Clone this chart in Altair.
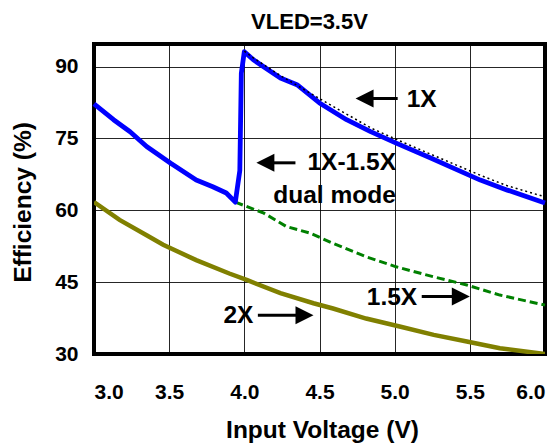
import altair as alt
import pandas as pd

# ---- data ----
# 1X-1.5X dual mode (blue)
dual_x = [3.00, 3.13, 3.24, 3.35, 3.51, 3.68, 3.79, 3.88, 3.94, 3.97, 3.98, 4.00, 4.06, 4.24, 4.35, 4.50, 4.68, 4.84, 5.01, 5.24, 5.39, 5.57, 5.75, 6.00]
dual_y = [82.2, 78.9, 76.4, 73.3, 69.8, 66.3, 64.9, 63.6, 61.7, 68.3, 88.6, 93.1, 91.4, 87.6, 86.2, 82.4, 78.9, 76.4, 74.0, 70.9, 68.8, 66.3, 64.2, 61.5]

# 1X (black dotted)
one_x = [4.00, 4.06, 4.24, 4.50, 4.84, 5.01, 5.24, 5.57, 5.75, 6.00]
one_y = [93.2, 91.8, 88.1, 83.3, 77.2, 74.8, 71.7, 67.3, 65.1, 62.8]

# 1.5X (green dashed)
x15_x = [3.94, 4.13, 4.28, 4.44, 4.59, 4.81, 5.01, 5.26, 5.48, 5.70, 6.00]
x15_y = [61.7, 59.4, 56.6, 55.2, 53.1, 50.3, 48.2, 46.1, 44.4, 42.3, 40.2]

# 2X (olive)
x2_x = [3.00, 3.17, 3.35, 3.46, 3.68, 3.90, 4.02, 4.24, 4.46, 4.59, 4.81, 5.04, 5.26, 5.48, 5.70, 6.00]
x2_y = [61.7, 58.0, 54.8, 52.8, 49.6, 46.8, 45.4, 42.7, 40.6, 39.5, 37.4, 35.7, 34.0, 32.6, 31.2, 30.0]

x_ticks = [3.0, 3.5, 4.0, 4.5, 5.0, 5.5, 6.0]
y_ticks = [30, 45, 60, 75, 90]

# annotations
label_text = ["1X", "1X-1.5X", "dual mode", "2X", "1.5X"]
label_x = [5.08, 4.42, 4.60, 4.06, 5.15]
label_y = [81.6, 68.3, 61.5, 36.4, 40.2]
label_align = ["left", "left", "center", "right", "right"]

arrow_dir = ["left", "left", "right", "right"]
arrow_tail = [5.02, 4.34, 4.09, 5.18]
arrow_tip = [4.74, 4.08, 4.46, 5.50]
arrow_y = [83.3, 69.9, 38.1, 42.0]

FONT = "Liberation Sans"

xs = alt.Scale(domain=[3.0, 6.0], nice=False)
ys = alt.Scale(domain=[30, 94.7], nice=False, zero=False)

x_axis = alt.Axis(values=x_ticks, format=".1f", title="Input Voltage (V)", grid=True,
                  ticks=False, domain=False, labelPadding=27, labelFontSize=21,
                  labelFont=FONT, labelFontWeight="bold", labelColor="black",
                  titleFont=FONT, titleFontSize=24.5, titleFontWeight="bold", titleColor="black",
                  titleX=228, titleY=83, titleBaseline="alphabetic", titleAlign="center",
                  gridColor="black", gridWidth=1, gridOpacity=0.85)
y_axis = alt.Axis(values=y_ticks, title="Efficiency (%)", grid=True,
                  ticks=False, domain=False, labelPadding=16, labelFontSize=21,
                  labelFont=FONT, labelFontWeight="bold", labelColor="black",
                  titleFont=FONT, titleFontSize=24.5, titleFontWeight="bold", titleColor="black",
                  titleX=-64, titleY=158, titleBaseline="alphabetic", titleAlign="center",
                  titleAngle=-90,
                  gridColor="black", gridWidth=1, gridOpacity=0.85)

def line_df(xv, yv):
    return pd.DataFrame({"v": xv, "e": yv})

olive = alt.Chart(line_df(x2_x, x2_y)).mark_line(color="#808000", strokeWidth=4.5, clip=True).encode(
    x=alt.X("v:Q", scale=xs, axis=x_axis),
    y=alt.Y("e:Q", scale=ys, axis=y_axis),
)
green = alt.Chart(line_df(x15_x, x15_y)).mark_line(color="#008000", strokeWidth=3, strokeDash=[8, 4]).encode(
    x=alt.X("v:Q", scale=xs), y=alt.Y("e:Q", scale=ys))
blue = alt.Chart(line_df(dual_x, dual_y)).mark_line(color="#0000FF", strokeWidth=4.8, strokeJoin="round").encode(
    x=alt.X("v:Q", scale=xs), y=alt.Y("e:Q", scale=ys))
black = alt.Chart(line_df(one_x, one_y)).mark_line(color="black", strokeWidth=1.5, strokeDash=[2, 3]).encode(
    x=alt.X("v:Q", scale=xs), y=alt.Y("e:Q", scale=ys))

lab = pd.DataFrame({"t": label_text, "x": label_x, "y": label_y, "a": label_align})
texts = []
for al in ["left", "center", "right"]:
    texts.append(
        alt.Chart(lab[lab.a == al]).mark_text(font=FONT, fontSize=24.5, fontWeight="bold", color="black",
                                              align=al, baseline="alphabetic").encode(
            x=alt.X("x:Q", scale=xs), y=alt.Y("y:Q", scale=ys), text="t:N"))

arr = pd.DataFrame({"d": arrow_dir, "tail": arrow_tail, "tip": arrow_tip, "y": arrow_y})
arrows = []
for d, off, path in [("left", 9, "M1,-1L-1,0L1,1Z"), ("right", -9, "M-1,-1L1,0L-1,1Z")]:
    sub = arr[arr.d == d]
    arrows.append(alt.Chart(sub).mark_rule(color="black", strokeWidth=3, x2Offset=off).encode(
        x=alt.X("tail:Q", scale=xs), x2="tip:Q", y=alt.Y("y:Q", scale=ys)))
    arrows.append(alt.Chart(sub).mark_point(shape=path, size=324, filled=True, color="black",
                                            opacity=1, xOffset=off).encode(
        x=alt.X("tip:Q", scale=xs), y=alt.Y("y:Q", scale=ys)))

chart = alt.layer(olive, green, blue, black, *texts, *arrows).properties(
    width=451, height=310,
    autosize="none",
    background="white",
    padding={"left": 86, "top": 36, "right": 6, "bottom": 92},
    title=alt.TitleParams("VLED=3.5V", font=FONT, fontSize=22, fontWeight="bold", color="black",
                          anchor="middle", dx=-10, offset=10),
).configure_view(stroke="black", strokeWidth=4)

chart.save("out.html", embed_options={"renderer": "svg", "actions": False})
